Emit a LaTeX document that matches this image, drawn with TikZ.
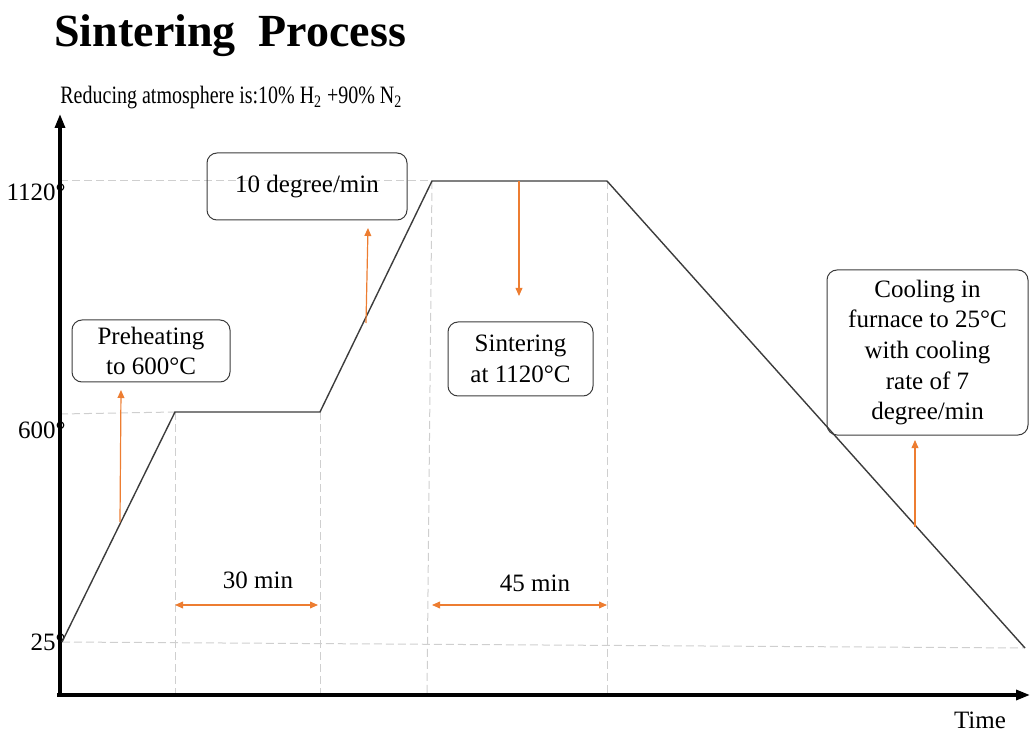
\documentclass[tikz,border=0pt]{standalone}
\usepackage{fontspec}
\setmainfont{Liberation Serif}
\usetikzlibrary{arrows.meta,positioning}
\definecolor{heat}{HTML}{ED7D31}
\definecolor{guidegray}{HTML}{CFCFCF}
\definecolor{curvegray}{HTML}{3C3C3C}

\begin{document}
\begin{tikzpicture}[x=0.5pt,y=-0.5pt,
  guide/.style={guidegray,dash pattern=on 4pt off 2pt,line width=0.5pt},
  note/.style={draw=curvegray,rounded corners=5pt,align=center,inner sep=0pt,
    line width=0.5pt,font=\fontsize{12.5}{15.3}\selectfont},
  pointer/.style={heat,line width=0.6pt,-{Triangle[length=4pt,width=3.4pt]}},
  span/.style={heat,line width=0.6pt,{Triangle[length=4pt,width=3.4pt]}-{Triangle[length=4pt,width=3.4pt]}},
  lbl/.style={font=\fontsize{12.5}{15}\selectfont}]
  \useasboundingbox (0,0) rectangle (1030,733);
  % title and atmosphere
  \node[anchor=base west,inner sep=0pt,font=\fontsize{23}{27}\bfseries] (title) at (54,47) {Sintering\ \ Process};
  \node[anchor=base west,inner sep=0pt,lbl] (gas) at (60,104)
    {\scalebox{0.8}[1]{Reducing atmosphere is:10\% H\textsubscript{2} +90\% N\textsubscript{2}}};
  % profile points
  \coordinate (O) at (60,695);
  \coordinate (T0) at (62,642);
  \coordinate (T1) at (175,412);
  \coordinate (T2) at (320,412);
  \coordinate (T3) at (432,181);
  \coordinate (T4) at (607,181);
  \coordinate (T5) at (1025,648);
  % guides
  \draw[guide] (60,181) -- (T3);
  \draw[guide] (60,414) -- (T1);
  \draw[guide] (T0) -- (T5);
  \draw[guide] (T1) -- (175,695);
  \draw[guide] (T2) -- (320,695);
  \draw[guide] (T3) -- (427,695);
  \draw[guide] (T4) -- (607,695);
  % axes
  \draw[line width=1.6pt,-{Triangle[length=7pt,width=5pt]}] (O) -- (60,114);
  \draw[line width=1.6pt,-{Triangle[length=7pt,width=5pt]}] (57,695) -- (1030,695);
  \node[anchor=east,inner sep=0pt,lbl] (y1120) at (66,192) {1120°};
  \node[anchor=east,inner sep=0pt,lbl] (y600) at (66,430) {600°};
  \node[anchor=east,inner sep=0pt,lbl] (y25) at (66,642) {25°};
  \node[anchor=base,inner sep=0pt,lbl] (time) at (980,728) {Time};
  % profile
  \draw[curvegray,line width=0.7pt] (T0) -- (T1) -- (T2) -- (T3) -- (T4) -- (T5);
  % notes
  \node[note,minimum width=79pt,minimum height=31pt] (pre) at (151,351) {Preheating\\to 600°C};
  \node[note,minimum width=100pt,minimum height=33.5pt] (rate) at (307,186.5) {10 degree/min};
  \node[note,minimum width=72.5pt,minimum height=37pt] (sint) at (520.5,359) {Sintering\\at 1120°C};
  \node[note,minimum width=100.5pt,minimum height=82.5pt] (cool) at (927.5,352.5)
    {Cooling in\\furnace to 25°C\\with cooling\\rate of 7\\degree/min};
  % pointers
  \coordinate (p1) at (120,522);
  \coordinate (p1e) at (121,390);
  \coordinate (p2) at (366,323);
  \coordinate (p2e) at (368,228);
  \coordinate (p3) at (519,181);
  \coordinate (p3e) at (519,296);
  \coordinate (p4) at (915,527);
  \coordinate (p4e) at (915,440);
  \draw[pointer] (p1) -- (p1e);
  \draw[pointer] (p2) -- (p2e);
  \draw[pointer] (p3) -- (p3e);
  \draw[pointer] (p4) -- (p4e);
  % durations
  \draw[span] (175,605) -- (318,605);
  \draw[span] (432,605) -- (607,605);
  \node[lbl,inner sep=0pt] (hold1) at (258,580) {30 min};
  \node[lbl,inner sep=0pt] (hold2) at (535,583) {45 min};
\end{tikzpicture}
\end{document}
